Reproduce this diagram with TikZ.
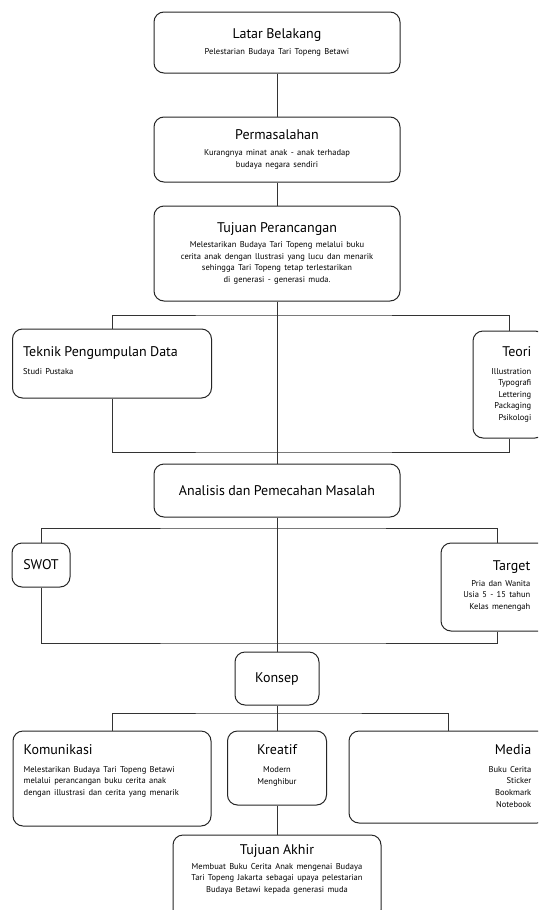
\documentclass[tikz,border=0pt]{standalone}
\usepackage{fontspec}
\setmainfont{PT Sans}
\newcommand{\judul}{\fontsize{14}{16}\selectfont}
\newcommand{\isi}{\fontsize{8.5}{11.5}\selectfont}
\tikzset{
box/.style={draw=black!85, line width=1pt, rounded corners=10pt, fill=white, inner sep=0pt},
teks/.style={inner sep=0pt, align=#1},
garis/.style={draw=black!80, line width=1pt}
}
\begin{document}
\begin{tikzpicture}[x=1pt,y=-1pt]
\useasboundingbox (0,0) rectangle (538,910);
\fill [white] (0,0) rectangle (538,910);
\clip (0,0) rectangle (538,910);

\node [box, minimum width=246pt, minimum height=61pt, text width=240pt, align=center] (latar) at (277,42.5) {\judul Latar Belakang\\[4pt]\isi Pelestarian Budaya Tari Topeng Betawi};
\node [box, minimum width=246pt, minimum height=65pt, text width=240pt, align=center] (masalah) at (277,149.5) {\judul Permasalahan\\[4pt]\isi Kurangnya minat anak - anak terhadap\\budaya negara sendiri};
\node [box, minimum width=246pt, minimum height=95pt, text width=240pt, align=center] (tujuan) at (277,253.5) {\judul Tujuan Perancangan\\[4pt]\isi Melestarikan Budaya Tari Topeng melalui buku\\cerita anak dengan llustrasi yang lucu dan menarik\\sehingga Tari Topeng tetap terlestarikan\\di generasi - generasi muda.};

\node [box, minimum width=199pt, minimum height=69pt] (teknik) at (112,363.5) {};
\node [teks=left, anchor=north west, text width=185pt] (tekniktxt) at ([shift={(11pt,-18pt)}]teknik.north west) {\judul Teknik Pengumpulan Data\\[6pt]\isi Studi Pustaka};
\node [box, minimum width=72pt, minimum height=107pt] (teori) at (509,384.5) {};
\node [teks=right, anchor=north east, text width=60pt] (teoritxt) at ([shift={(-14pt,-16pt)}]teori.north east) {\judul Teori\\[6pt]\isi Illustration\\Typografi\\Lettering\\Packaging\\Psikologi};

\node [box, minimum width=246pt, minimum height=53pt, text width=240pt, align=center] (analisis) at (277,490.5) {\judul Analisis dan Pemecahan Masalah};
\node [box, minimum width=58pt, minimum height=44pt] (swot) at (41,565) {\judul SWOT};
\node [box, minimum width=112pt, minimum height=88pt] (target) at (497,587) {};
\node [teks=right, anchor=north east, text width=100pt] (targettxt) at ([shift={(-23pt,-18pt)}]target.north east) {\judul Target\\[4pt]\isi Pria dan Wanita\\Usia 5 - 15 tahun\\Kelas menengah};

\node [box, minimum width=84pt, minimum height=53pt] (konsep) at (277,678.5) {\judul Konsep};
\node [box, minimum width=198pt, minimum height=95pt] (komunikasi) at (112,778.5) {};
\node [teks=left, anchor=north west, text width=185pt] (komunikasitxt) at ([shift={(11pt,-14pt)}]komunikasi.north west) {\judul Komunikasi\\[6pt]\isi Melestarikan Budaya Tari Topeng Betawi\\melalui perancangan buku cerita anak\\dengan illustrasi dan cerita yang menarik};
\node [box, minimum width=99pt, minimum height=74pt] (kreatif) at (277,768) {};
\node [teks=center, anchor=north, text width=90pt] (kreatiftxt) at ([yshift=-14pt]kreatif.north) {\judul Kreatif\\[6pt]\isi Modern\\Menghibur};
\node [box, minimum width=198pt, minimum height=92pt] (media) at (448,777) {};
\node [teks=right, anchor=north east, text width=100pt] (mediatxt) at ([shift={(-16pt,-14pt)}]media.north east) {\judul Media\\[6pt]\isi Buku Cerita\\Sticker\\Bookmark\\Notebook};
\node [box, minimum width=208pt, minimum height=85pt] (akhir) at (277,877.5) {};
\node [teks=center, anchor=north, text width=200pt] (akhirtxt) at ([yshift=-10pt]akhir.north) {\judul Tujuan Akhir\\[3pt]\isi Membuat Buku Cerita Anak mengenai Budaya\\Tari Topeng Jakarta sebagai upaya pelestarian\\Budaya Betawi kepada generasi muda};

\coordinate (c1) at (277,315);
\coordinate (c2) at (277,452);
\coordinate (c3) at (277,528);
\coordinate (c4) at (277,643);
\coordinate (c5) at (277,713);

\begin{scope}[on background layer/.try]
\draw [garis] (latar) -- (masalah);
\draw [garis] (masalah) -- (tujuan);
\draw [garis] (tujuan) -- (analisis);
\draw [garis] (teknik.north) |- (c1) -| (teori.north);
\draw [garis] (teknik.south) |- (c2) -| (teori.south);
\draw [garis] (analisis) -- (konsep);
\draw [garis] (swot.north) |- (c3) -| (target.north);
\draw [garis] (swot.south) |- (c4) -| (target.south);
\draw [garis] (komunikasi.north) |- (c5) -| (media.north);
\draw [garis] (konsep) -- (kreatif);
\draw [garis] (kreatif) -- (akhir);
\end{scope}
\end{tikzpicture}
\end{document}
